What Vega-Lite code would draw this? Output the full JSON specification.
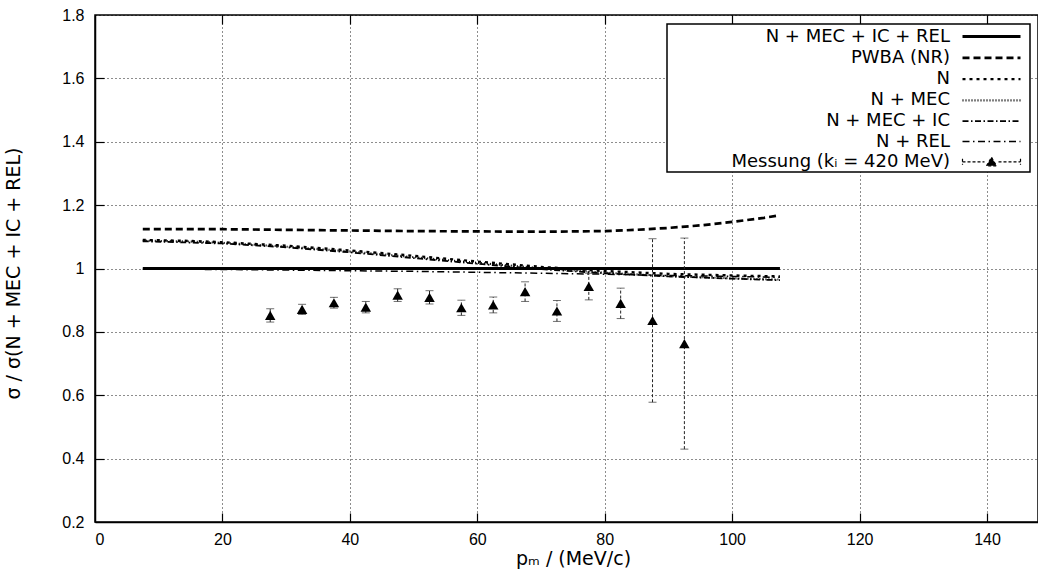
{
  "$schema": "https://vega.github.io/schema/vega-lite/v6.json",
  "width": 943,
  "height": 507,
  "autosize": {"type": "none"},
  "padding": {"left": 95, "top": 15, "right": 0, "bottom": 55},
  "background": "white",
  "config": {
    "view": {"stroke": "black", "strokeWidth": 1.5},
    "axis": {
      "domainColor": "black", "domainWidth": 1.5,
      "tickColor": "black", "tickWidth": 1.2, "tickSize": 9,
      "labelFont": "Liberation Sans", "labelFontSize": 16, "labelColor": "black",
      "titleFont": "DejaVu Sans", "titleFontSize": 19, "titleFontWeight": "normal", "titleColor": "black",
      "gridColor": "black", "gridDash": [1, 3], "gridWidth": 0.9, "gridOpacity": 1
    }
  },
  "datasets": {
    "curves": [
      {"series": "N + MEC + IC + REL", "p": 7.5, "r": 1.0},
      {"series": "N + MEC + IC + REL", "p": 30, "r": 1.0},
      {"series": "N + MEC + IC + REL", "p": 60, "r": 1.0},
      {"series": "N + MEC + IC + REL", "p": 90, "r": 1.0},
      {"series": "N + MEC + IC + REL", "p": 107.5, "r": 1.0},
      {"series": "PWBA (NR)", "p": 7.5, "r": 1.124},
      {"series": "PWBA (NR)", "p": 15, "r": 1.124},
      {"series": "PWBA (NR)", "p": 20, "r": 1.124},
      {"series": "PWBA (NR)", "p": 30, "r": 1.122},
      {"series": "PWBA (NR)", "p": 40, "r": 1.12},
      {"series": "PWBA (NR)", "p": 50, "r": 1.118},
      {"series": "PWBA (NR)", "p": 60, "r": 1.117},
      {"series": "PWBA (NR)", "p": 70, "r": 1.116},
      {"series": "PWBA (NR)", "p": 75, "r": 1.117},
      {"series": "PWBA (NR)", "p": 80, "r": 1.118},
      {"series": "PWBA (NR)", "p": 85, "r": 1.122},
      {"series": "PWBA (NR)", "p": 90, "r": 1.128},
      {"series": "PWBA (NR)", "p": 95, "r": 1.136},
      {"series": "PWBA (NR)", "p": 100, "r": 1.147},
      {"series": "PWBA (NR)", "p": 105, "r": 1.16},
      {"series": "PWBA (NR)", "p": 107.5, "r": 1.168},
      {"series": "N", "p": 7.5, "r": 1.09},
      {"series": "N", "p": 15, "r": 1.087},
      {"series": "N", "p": 20, "r": 1.083},
      {"series": "N", "p": 30, "r": 1.072},
      {"series": "N", "p": 40, "r": 1.057},
      {"series": "N", "p": 50, "r": 1.04},
      {"series": "N", "p": 60, "r": 1.022},
      {"series": "N", "p": 70, "r": 1.005},
      {"series": "N", "p": 80, "r": 0.992},
      {"series": "N", "p": 90, "r": 0.983},
      {"series": "N", "p": 100, "r": 0.978},
      {"series": "N", "p": 107.5, "r": 0.975},
      {"series": "N + MEC", "p": 7.5, "r": 1.088},
      {"series": "N + MEC", "p": 15, "r": 1.085},
      {"series": "N + MEC", "p": 20, "r": 1.081},
      {"series": "N + MEC", "p": 30, "r": 1.069},
      {"series": "N + MEC", "p": 40, "r": 1.054},
      {"series": "N + MEC", "p": 50, "r": 1.036},
      {"series": "N + MEC", "p": 60, "r": 1.018},
      {"series": "N + MEC", "p": 70, "r": 1.001},
      {"series": "N + MEC", "p": 80, "r": 0.987},
      {"series": "N + MEC", "p": 90, "r": 0.976},
      {"series": "N + MEC", "p": 100, "r": 0.969},
      {"series": "N + MEC", "p": 107.5, "r": 0.965},
      {"series": "N + MEC + IC", "p": 7.5, "r": 1.086},
      {"series": "N + MEC + IC", "p": 20, "r": 1.079},
      {"series": "N + MEC + IC", "p": 30, "r": 1.067},
      {"series": "N + MEC + IC", "p": 40, "r": 1.051},
      {"series": "N + MEC + IC", "p": 50, "r": 1.033},
      {"series": "N + MEC + IC", "p": 60, "r": 1.015},
      {"series": "N + MEC + IC", "p": 70, "r": 0.998},
      {"series": "N + MEC + IC", "p": 80, "r": 0.985},
      {"series": "N + MEC + IC", "p": 90, "r": 0.975},
      {"series": "N + MEC + IC", "p": 100, "r": 0.968},
      {"series": "N + MEC + IC", "p": 107.5, "r": 0.963},
      {"series": "N + REL", "p": 7.5, "r": 0.998},
      {"series": "N + REL", "p": 20, "r": 0.997},
      {"series": "N + REL", "p": 30, "r": 0.995},
      {"series": "N + REL", "p": 40, "r": 0.993},
      {"series": "N + REL", "p": 50, "r": 0.991},
      {"series": "N + REL", "p": 60, "r": 0.988},
      {"series": "N + REL", "p": 70, "r": 0.985},
      {"series": "N + REL", "p": 80, "r": 0.982},
      {"series": "N + REL", "p": 90, "r": 0.978},
      {"series": "N + REL", "p": 100, "r": 0.975},
      {"series": "N + REL", "p": 107.5, "r": 0.972}
    ],
    "meas": [
      {"p": 27.5, "r": 0.852, "lo": 0.831, "hi": 0.873},
      {"p": 32.5, "r": 0.871, "lo": 0.855, "hi": 0.887},
      {"p": 37.5, "r": 0.892, "lo": 0.875, "hi": 0.909},
      {"p": 42.5, "r": 0.878, "lo": 0.86, "hi": 0.896},
      {"p": 47.5, "r": 0.916, "lo": 0.896, "hi": 0.936},
      {"p": 52.5, "r": 0.909, "lo": 0.888, "hi": 0.93},
      {"p": 57.5, "r": 0.876, "lo": 0.852, "hi": 0.9},
      {"p": 62.5, "r": 0.885, "lo": 0.86, "hi": 0.91},
      {"p": 67.5, "r": 0.927, "lo": 0.896, "hi": 0.958},
      {"p": 72.5, "r": 0.866, "lo": 0.833, "hi": 0.899},
      {"p": 77.5, "r": 0.943, "lo": 0.901, "hi": 0.985},
      {"p": 82.5, "r": 0.89, "lo": 0.842, "hi": 0.938},
      {"p": 87.5, "r": 0.836, "lo": 0.578, "hi": 1.094},
      {"p": 92.5, "r": 0.763, "lo": 0.43, "hi": 1.096}
    ]
  },
  "resolve": {"axis": {"x": "independent", "y": "independent"}},
  "layer": [
    {
      "data": {"name": "curves"},
      "mark": {"type": "line", "color": "black", "strokeCap": "butt"},
      "encoding": {
        "x": {
          "field": "p", "type": "quantitative",
          "scale": {"domain": [0, 148], "nice": false, "zero": false},
          "axis": {
            "values": [0, 20, 40, 60, 80, 100, 120, 140],
            "grid": true, "ticks": false, "tickSize": 0, "labelPadding": 9,
            "title": "pₘ / (MeV/c)",
            "titleX": 478, "titleY": 42, "titleBaseline": "alphabetic", "titleAlign": "center", "titleAnchor": null
          }
        },
        "y": {
          "field": "r", "type": "quantitative",
          "scale": {"domain": [0.2, 1.8], "nice": false, "zero": false},
          "axis": {
            "values": [0.2, 0.4, 0.6, 0.8, 1.0, 1.2, 1.4, 1.6, 1.8],
            "format": ".1~f", "grid": true, "ticks": false, "tickSize": 0, "labelPadding": 11,
            "title": "σ / σ(N + MEC + IC + REL)",
            "titleX": -76, "titleY": 258, "titleAngle": 270, "titleBaseline": "alphabetic", "titleAlign": "center"
          }
        },
        "strokeDash": {
          "field": "series", "type": "nominal",
          "scale": {
            "domain": ["N + MEC + IC + REL", "PWBA (NR)", "N", "N + MEC", "N + MEC + IC", "N + REL", "Messung (kᵢ = 420 MeV)"],
            "range": [[1, 0], [7, 4], [3, 4], [1, 2], [6, 2.5, 1.5, 2.5], [7, 3.5, 1.5, 3.5], [3, 2]]
          },
          "legend": {
            "orient": "none", "legendX": 572, "legendY": 9,
            "title": "\u00a0\u00a0", "titleOrient": "right", "titlePadding": 2,
            "titleFont": "DejaVu Sans", "titleFontSize": 18,
            "strokeColor": "black", "fillColor": "white", "padding": 1,
            "symbolType": "stroke", "symbolSize": 400, "symbolStrokeColor": "black", "symbolOffset": 312,
            "labelFont": "DejaVu Sans", "labelFontSize": 18, "labelColor": "black",
            "labelAlign": "right", "labelOffset": -53, "labelLimit": 400,
            "rowPadding": 0.3,
            "encode": {
              "legend": {"update": {"strokeWidth": {"value": 1.5}}},
              "symbols": {
                "update": {
                  "stroke": {"value": "black"},
                  "shape": {"signal": "datum.value === 'Messung (kᵢ = 420 MeV)' ? 'M-2.9,-0.3V0.3M-2.9,0H-0.7M0.7,0H2.9M2.9,-0.3V0.3M-0.5,0.4L0,-0.45L0.5,0.4Z' : 'M-2.9,0H2.9'"},
                  "fill": {"signal": "datum.value === 'Messung (kᵢ = 420 MeV)' ? 'black' : 'transparent'"}
                }
              }
            }
          }
        },
        "strokeWidth": {
          "field": "series", "type": "nominal",
          "scale": {
            "domain": ["N + MEC + IC + REL", "PWBA (NR)", "N", "N + MEC", "N + MEC + IC", "N + REL", "Messung (kᵢ = 420 MeV)"],
            "range": [3, 1.2, 1.1, 1.1, 1.1, 1.1, 1]
          }
        }
      }
    },
    {
      "data": {"name": "meas"},
      "mark": {"type": "rule", "color": "#222", "strokeWidth": 1, "strokeDash": [3, 2]},
      "encoding": {
        "x": {
          "field": "p", "type": "quantitative",
          "axis": {"orient": "top", "offset": -507, "labels": false, "title": null, "grid": false, "domain": false, "values": [20, 40, 60, 80, 100, 120, 140]}
        },
        "y": {
          "field": "lo", "type": "quantitative",
          "axis": {"orient": "right", "offset": -943, "labels": false, "title": null, "grid": false, "domain": false, "values": [0.4, 0.6, 0.8, 1.0, 1.2, 1.4, 1.6]}
        },
        "y2": {"field": "hi"}
      }
    },
    {
      "data": {"name": "meas"},
      "mark": {"type": "tick", "color": "#333", "orient": "horizontal", "size": 8, "thickness": 1},
      "encoding": {
        "x": {
          "field": "p", "type": "quantitative",
          "axis": {"orient": "bottom", "offset": -507, "labels": false, "title": null, "grid": false, "domain": false, "values": [20, 40, 60, 80, 100, 120, 140]}
        },
        "y": {"field": "lo", "type": "quantitative", "axis": null}
      }
    },
    {
      "data": {"name": "meas"},
      "mark": {"type": "tick", "color": "#333", "orient": "horizontal", "size": 8, "thickness": 1},
      "encoding": {
        "x": {"field": "p", "type": "quantitative", "axis": null},
        "y": {"field": "hi", "type": "quantitative", "axis": null}
      }
    },
    {
      "data": {"name": "meas"},
      "mark": {"type": "point", "shape": "triangle-up", "filled": true, "color": "black", "size": 110, "opacity": 1},
      "encoding": {
        "x": {"field": "p", "type": "quantitative", "axis": null},
        "y": {"field": "r", "type": "quantitative", "axis": null}
      }
    }
  ]
}
